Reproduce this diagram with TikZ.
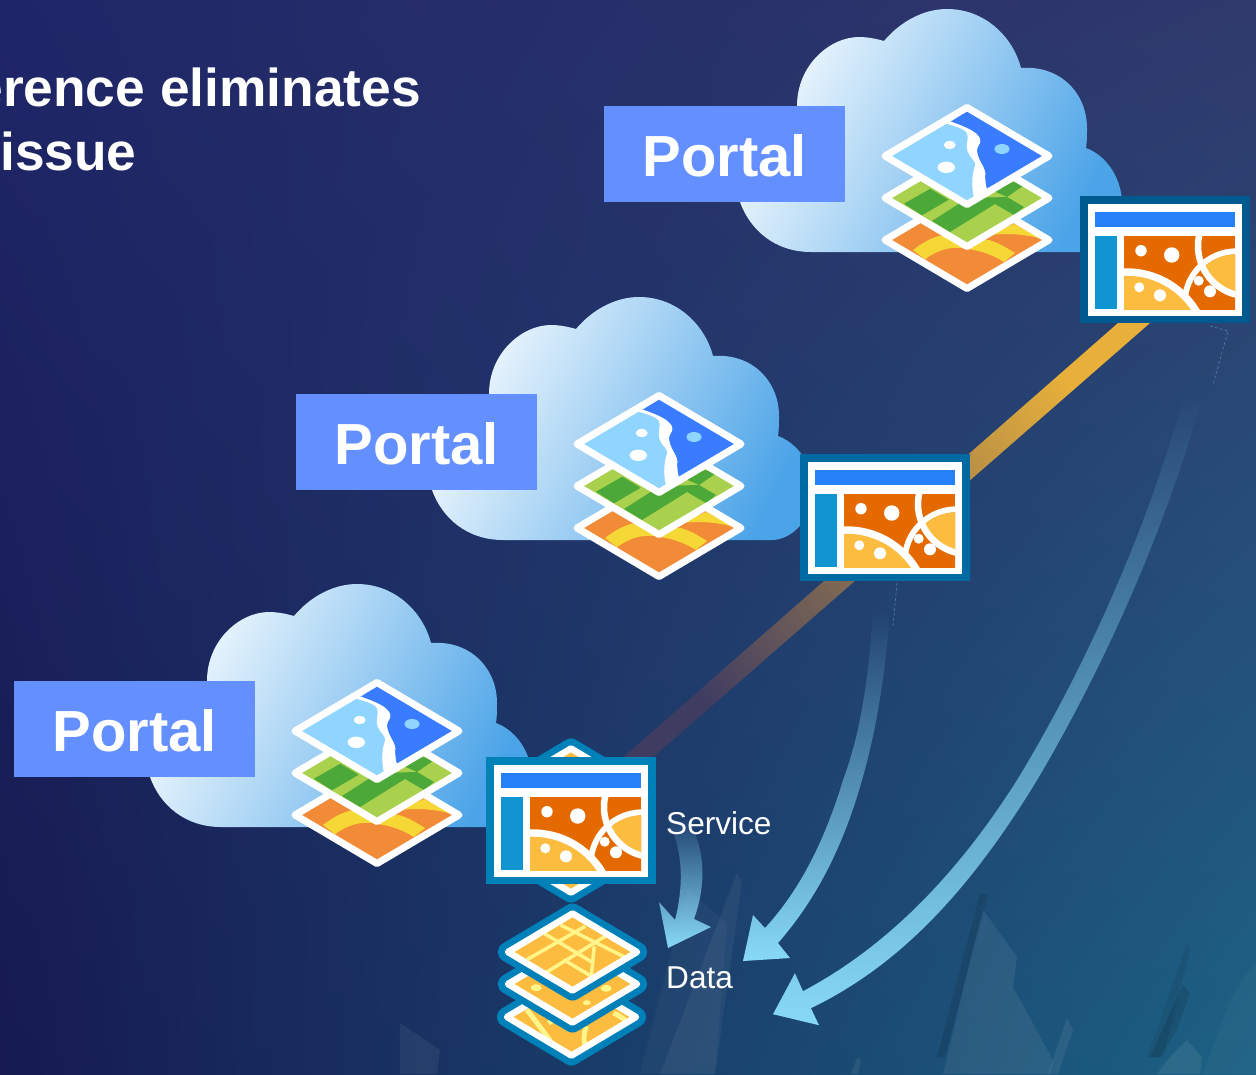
\documentclass[tikz,border=0pt]{standalone}
\usepackage{fontspec}
\setmainfont{Liberation Sans}
\usetikzlibrary{fadings,shadings}
\definecolor{bgUL}{HTML}{1F2668}
\definecolor{bgUR}{HTML}{30396C}
\definecolor{bgLL}{HTML}{161A50}
\definecolor{bgLR}{HTML}{1C6284}
\definecolor{arrowblue}{HTML}{88DAF7}
\definecolor{portalblue}{HTML}{648FFF}
\definecolor{cloudlight}{HTML}{F2F9FE}
\definecolor{clouddark}{HTML}{4CA4E8}
\definecolor{lyrLight}{HTML}{8FD5FF}
\definecolor{lyrDeep}{HTML}{3A7CFF}
\definecolor{lyrGrass}{HTML}{A9D14D}
\definecolor{lyrGreen}{HTML}{4CA838}
\definecolor{lyrOrange}{HTML}{F28B38}
\definecolor{lyrYellow}{HTML}{F5D835}
\definecolor{dataFill}{HTML}{FCBC3F}
\definecolor{dataLine}{HTML}{FFF58A}
\definecolor{dataEdge}{HTML}{0080B8}
\definecolor{mapOrange}{HTML}{E46A00}
\definecolor{mapBar}{HTML}{2680F8}
\definecolor{mapSide}{HTML}{1095D0}
\definecolor{mapEdgeA}{HTML}{00598F}
\definecolor{mapEdgeB}{HTML}{006BA3}
\definecolor{mapEdgeC}{HTML}{0082B8}
\definecolor{linkGold}{HTML}{E8B03A}
\definecolor{linkMid}{HTML}{8F7A50}
\definecolor{linkEnd}{HTML}{3F3C62}
\tikzfading[name=tailfade, top color=transparent!100, bottom color=transparent!0]
\tikzset{
  portallabel/.style={fill=portalblue,text=white,minimum width=241pt,minimum height=96pt,inner sep=0pt,
    text height=44pt,text depth=0pt,font=\fontsize{58}{60}\selectfont\bfseries},
  caption/.style={text=white,inner sep=0pt,font=\fontsize{31.6}{34}\selectfont},
  headline/.style={text=white,inner sep=0pt,font=\fontsize{53.3}{56}\selectfont\bfseries},
  layerline/.style={white,line width=7pt,line join=round},
  tail/.style={arrowblue,path fading=tailfade,fit fading=true},
  hintline/.style={arrowblue,opacity=.4,line width=.6pt,densely dashed},
  tower/.style={fill=#1,draw=none},
  dataway/.style={dataLine,line width=3.5pt},
  pics/mapwindow/.style={code={
    \fill[#1] (0,0) rectangle (170,127);
    \fill[white] (7.5,8) rectangle (162,119.7);
    \fill[mapBar] (15,16) rectangle (155,31);
    \fill[mapSide] (15,40) rectangle (36.7,112.5);
    \begin{scope}
      \clip (44,40) rectangle (155,113);
      \fill[mapOrange] (44,40) rectangle (155,113);
      \fill[white] (156.7,107.3) circle (55);
      \fill[mapOrange] (156.7,107.3) circle (49);
      \begin{scope}
        \clip (168,50.1) circle (47);
        \fill[dataFill] (156.7,107.3) circle (49);
      \end{scope}
      \draw[white,line width=6.5pt] (168,50.1) circle (50);
      \fill[white] (46.7,157.3) circle (85);
      \fill[dataFill] (46.7,157.3) circle (77.5);
    \end{scope}
    \fill[white] (61,54.7) circle (5.7) (91.7,59) circle (7.7) (59.3,91.3) circle (5)
      (80,99.3) circle (6) (118.7,84.7) circle (5) (130,95.3) circle (6);
  }},
  pics/portalsite/.style={code={
    \shade[top color=cloudlight,bottom color=clouddark,shading angle=62]
      (221,827) .. controls (185,827) and (160,805) .. (150,777) -- (207,690)
      -- (207,681) .. controls (207,640) and (240,612) .. (269,612)
      .. controls (278,612) and (287,614) .. (294,616)
      .. controls (310,597) and (333,584) .. (357,584)
      .. controls (395,584) and (423,612) .. (431,643)
      .. controls (470,640) and (497,668) .. (497,703)
      .. controls (497,710) and (497,717) .. (496,723)
      .. controls (515,730) and (530,750) .. (532,775)
      .. controls (532,805) and (510,827) .. (490,827) -- cycle;
    \node[portallabel] (label) at (134.5,729) {Portal};
    \begin{scope}[shift={(377,815)}]
      \fill[lyrOrange] (0,-48.5) -- (82,0) -- (0,48.5) -- (-82,0) -- cycle;
      \begin{scope}
        \clip (0,-48.5) -- (82,0) -- (0,48.5) -- (-82,0) -- cycle;
        \fill[lyrYellow] (-54,10) .. controls (-45,3) and (-36,-2) .. (-27,-4.3) -- (22,0)
          .. controls (32,3) and (40,8) .. (48,13) -- (37,22)
          .. controls (26,15) and (14,11) .. (3,9.3) .. controls (-15,5) and (-30,10) .. (-42,19.3) -- cycle;
        \fill[lyrYellow] (23,-5) -- (47,-16) -- (75,-1) .. controls (58,-6) and (40,-7) .. (23,-5) -- cycle;
      \end{scope}
      \draw[layerline] (0,-48.5) -- (82,0) -- (0,48.5) -- (-82,0) -- cycle;
    \end{scope}
    \begin{scope}[shift={(377,773)}]
      \fill[lyrGrass] (0,-48.5) -- (82,0) -- (0,48.5) -- (-82,0) -- cycle;
      \begin{scope}
        \clip (0,-48.5) -- (82,0) -- (0,48.5) -- (-82,0) -- cycle;
        \fill[lyrGreen] (-63,5.7) -- (-36.7,-9.3) -- (-18.3,1.7) -- (-45,17.3) -- cycle;
        \fill[lyrGreen] (-35,23) -- (-10,7) -- (0,0) -- (40,-1) -- (57,9) -- (47,17) -- (28,6) -- (-17,34) -- cycle;
        \fill[lyrGreen] (20,-10) -- (47,-16) -- (56,-12) -- (40,-1) -- cycle;
      \end{scope}
      \draw[layerline] (0,-48.5) -- (82,0) -- (0,48.5) -- (-82,0) -- cycle;
    \end{scope}
    \begin{scope}[shift={(377,731)}]
      \fill[lyrLight] (0,-48.5) -- (82,0) -- (0,48.5) -- (-82,0) -- cycle;
      \begin{scope}
        \clip (0,-48.5) -- (82,0) -- (0,48.5) -- (-82,0) -- cycle;
        \fill[lyrDeep] (-16,-34.3) -- (0,-46) -- (80,0) -- (20,33)
          .. controls (18,27) and (18,22) .. (18.3,17.3) .. controls (18,11) and (10,3) .. (10,-6)
          .. controls (10,-10) and (14,-12) .. (13.3,-16) .. controls (12,-22) and (5,-27) .. (-16,-34.3) -- cycle;
        \fill[white] (-23.3,-33) .. controls (-12,-30) and (-2,-27) .. (0,-22.7)
          .. controls (2,-15) and (-2,-10) .. (0.7,-4.3) .. controls (3,2) and (9,5) .. (8.3,9)
          .. controls (5,18) and (4,28) .. (7,42) -- (20,34)
          .. controls (18,27) and (18,22) .. (18.3,17.3) .. controls (18,11) and (10,3) .. (10,-6)
          .. controls (10,-10) and (14,-12) .. (13.3,-16) .. controls (12,-22) and (5,-27) .. (-16,-34.3) -- cycle;
      \end{scope}
      \fill[white] (-17.3,-11) ellipse [x radius=6,y radius=4];
      \fill[white] (-20.7,11.3) ellipse [x radius=8.7,y radius=5.7];
      \fill[lyrLight] (35,-7) ellipse [x radius=7.5,y radius=5];
      \draw[layerline] (0,-48.5) -- (82,0) -- (0,48.5) -- (-82,0) -- cycle;
    \end{scope}
  }},
  pics/datasheet/.style={code={
    \draw[dataEdge,line width=20pt,line join=round] (0,-38.5) -- (64.5,0) -- (0,38.5) -- (-64.5,0) -- cycle;
    \fill[dataFill] (0,-38.5) -- (64.5,0) -- (0,38.5) -- (-64.5,0) -- cycle;
  }},
  pics/datarim/.style={code={
    \draw[white,line width=6.5pt,line join=round] (0,-38.5) -- (64.5,0) -- (0,38.5) -- (-64.5,0) -- cycle;
  }}
}
\begin{document}
\begin{tikzpicture}[x=1pt,y=-1pt]
\useasboundingbox (0,0) rectangle (1256,1074);
\clip (0,0) rectangle (1256,1074);
% background
\shade[upper left=bgUL,upper right=bgUR,lower left=bgLL,lower right=bgLR] (0,0) rectangle (1256,1074);
% faint skyline
\fill[tower={white},opacity=.06] (400,1023) -- (440,1050) -- (437,1074) -- (400,1074) -- cycle;
\fill[tower={white},opacity=.03] (687,890) -- (727,923) -- (715,1074) -- (640,1074) -- cycle;
\fill[tower={white},opacity=.05] (737,873) -- (742,882) -- (715,1074) -- (660,1074) -- cycle;
\fill[tower={white},opacity=.07] (983,910) -- (1017,957) -- (1013,987) -- (1053,1060) -- (1050,1074) -- (943,1074) -- (975,940) -- cycle;
\fill[tower={black},opacity=.10] (980,893) -- (988,895) -- (945,1057) -- (937,1057) -- cycle;
\fill[tower={white},opacity=.07] (1067,1018) -- (1073,1030) -- (1058,1074) -- (1048,1074) -- cycle;
\fill[tower={black},opacity=.07] (1187,943) -- (1190,950) -- (1163,1057) -- (1147,1057) -- cycle;
\fill[tower={black},opacity=.10] (1183,985) -- (1190,993) -- (1177,1030) -- (1160,1057) -- (1150,1057) -- cycle;
\fill[tower={white},opacity=.08] (1187,1040) -- (1202,1057) -- (1200,1074) -- (1157,1074) -- (1167,1060) -- cycle;
\fill[tower={white},opacity=.03] (1256,960) -- (1256,1074) -- (1203,1074) -- (1230,1000) -- cycle;
\fill[tower={white},opacity=.07] (857,1058) -- (861,1060) -- (858,1074) -- (851,1074) -- cycle;
% link running through the three maps
\shade[top color=linkGold,middle color=linkMid,bottom color=linkEnd,shading angle=-49]
  (1118,323) -- (1150,323) -- (650,760) -- (620,760) -- cycle;
% curved arrows
\fill[tail] (1184,395) .. controls (1150,520) and (1090,660) .. (1017,780)
  .. controls (960,870) and (890,945) .. (803,991) -- (795,973) -- (773,1014) -- (819,1025) -- (811,1008)
  .. controls (900,965) and (970,890) .. (1037,780) .. controls (1105,665) and (1165,530) .. (1203,395) -- cycle;
\fill[tail] (873,610) .. controls (868,690) and (858,740) .. (843,780)
  .. controls (825,840) and (800,890) .. (765,928) -- (753,915) -- (743,961) -- (790,958) -- (778,943)
  .. controls (820,895) and (845,840) .. (862,780) .. controls (875,735) and (885,680) .. (890,610) -- cycle;
\fill[tail] (664,815) .. controls (684,845) and (684,885) .. (675,920) -- (659,902) -- (668,948) -- (711,927) -- (694,919)
  .. controls (708,880) and (704,845) .. (686,815) -- cycle;
\coordinate (hintA) at (1210,326);
\coordinate (hintB) at (1228,331);
\coordinate (hintC) at (1213,385);
\coordinate (hintD) at (897,583);
\coordinate (hintE) at (893,627);
\draw[hintline] (hintA) -- (hintB) -- (hintC);
\draw[hintline] (hintD) -- (hintE);
% portals
\pic (siteC) at (0,0) {portalsite};
\pic (siteB) at (282,-287) {portalsite};
\pic (siteA) at (590,-575) {portalsite};
% data stack
\pic at (571,787) {datasheet};
\pic at (571,787) {datarim};
\pic at (571,854) {datasheet};
\pic at (571,854) {datarim};
\pic at (571.5,1017) {datasheet};
\begin{scope}[shift={(571.5,1017)}]
  \clip (0,-38) -- (65,0) -- (0,38) -- (-65,0) -- cycle;
  \draw[dataway,line width=5pt] (-44.7,-7.3) .. controls (-36,4) and (-28,14) .. (-21,24.3);
  \draw[dataway,line width=5pt] (-23,6) -- (-8,-4);
  \draw[dataway,line width=5pt] (15,9.3) .. controls (12,16) and (12,23) .. (13.7,29.3);
  \draw[dataway,line width=5pt] (42,-4) .. controls (47,-2) and (51,1) .. (55,4.3);
\end{scope}
\pic at (571.5,1017) {datarim};
\pic at (572.5,984) {datasheet};
\begin{scope}[shift={(572.5,984)}]
  \fill[dataLine] (-36.3,3.7) ellipse [x radius=5.5,y radius=3.5];
  \fill[dataLine] (33.7,4.3) ellipse [x radius=5.5,y radius=3.5];
  \fill[dataLine] (14.3,18.7) ellipse [x radius=4,y radius=2.5];
\end{scope}
\pic at (572.5,984) {datarim};
\pic at (572.5,952) {datasheet};
\begin{scope}[shift={(572.5,952)}]
  \clip (0,-38) -- (65,0) -- (0,38) -- (-65,0) -- cycle;
  \draw[dataway] (-45.7,7.7) -- (12.7,-25.7);
  \draw[dataway] (-27.3,21) -- (32.7,-15.7);
  \draw[dataway] (-29,-19) -- (21,11);
  \draw[dataway] (-12,-27) -- (58,8);
  \draw[dataway] (-9,7.7) -- (19,24.3);
  \draw[dataway] (21.7,-5.7) -- (18.3,29.3);
\end{scope}
\pic at (572.5,952) {datarim};
% map windows
\pic (winA) at (1080,196) {mapwindow=mapEdgeA};
\pic (winB) at (800,454) {mapwindow=mapEdgeB};
\pic (winC) at (486,757) {mapwindow=mapEdgeC};
% texts
\node[caption,anchor=base west] (service) at (666,834) {Service};
\node[caption,anchor=base west] (data) at (666,988) {Data};
\node[headline,anchor=base east] (lineone) at (421,106) {erence eliminates};
\node[headline,anchor=base west] (linetwo) at (0,170) {issue};
\end{tikzpicture}
\end{document}
